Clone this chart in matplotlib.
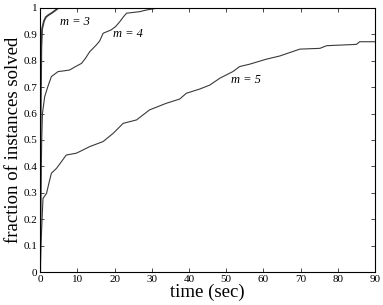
import matplotlib.pyplot as plt
from matplotlib.ticker import FuncFormatter

# m = 3
t3 = [0, 0.1, 0.3, 0.5, 1.0, 1.5, 2.2, 3.0, 4.0, 4.9, 6]
f3 = [0, 0.55, 0.85, 0.92, 0.95, 0.965, 0.973, 0.98, 0.99, 1.0, 1.0]

# m = 4
t4 = [0, 0.2, 0.4, 0.6, 1.2, 2.0, 3.0, 4.8, 6.5, 7.9, 9.5, 11.1, 12.2, 13.3, 15.1,
      16.0, 16.9, 19.1, 20.3, 21.4, 22.3, 23.2, 26.8, 28.5, 31.0, 36.0]
f4 = [0, 0.3, 0.5, 0.6, 0.664, 0.7, 0.74, 0.759, 0.762, 0.765, 0.778, 0.79, 0.81,
      0.834, 0.86, 0.875, 0.904, 0.917, 0.93, 0.948, 0.965, 0.98, 0.986, 0.992,
      0.998, 1.0]

# m = 5
t5 = [0, 0.2, 0.5, 0.75, 1.7, 2.4, 3.0, 4.4, 5.7, 7.0, 9.7, 10.6, 13.3, 16.9, 19.6,
      22.3, 25.9, 29.4, 33.9, 37.5, 39.3, 42.9, 45.6, 48.3, 51.8, 53.6, 56.3, 60.8,
      64.4, 69.8, 75.2, 77.0, 85.0, 85.9, 90.0]
f5 = [0, 0.1, 0.2, 0.279, 0.298, 0.34, 0.374, 0.393, 0.418, 0.443, 0.45, 0.456,
      0.475, 0.494, 0.525, 0.563, 0.576, 0.614, 0.639, 0.655, 0.677, 0.693, 0.708,
      0.734, 0.759, 0.778, 0.787, 0.806, 0.818, 0.844, 0.847, 0.857, 0.862, 0.872,
      0.872]

plt.rcParams['font.family'] = ['Liberation Serif', 'DejaVu Serif']

fig = plt.figure(figsize=(3.83, 3.05), dpi=100)
ax = fig.add_axes([0.105, 0.108, 0.874, 0.866])

col = '#3a3a3a'
ax.plot(t3, f3, color=col, lw=1.3)
ax.plot(t4, f4, color=col, lw=0.8)
ax.plot(t5, f5, color=col, lw=0.8)

ax.text(5.2, 0.947, 'm = 3', fontsize=9, fontstyle='italic', va='center')
ax.text(19.7, 0.90, 'm = 4', fontsize=9, fontstyle='italic', va='center')
ax.text(51.2, 0.727, 'm = 5', fontsize=9, fontstyle='italic', va='center')

ax.set_xlim(0, 90)
ax.set_ylim(0, 1)
ax.set_xticks(range(0, 91, 10))
ax.set_yticks([i / 10 for i in range(11)])
ax.yaxis.set_major_formatter(FuncFormatter(lambda v, p: '%g' % v))
ax.tick_params(direction='in', top=True, right=True, labelsize=8, length=3,
               width=0.5, pad=2)
for s in ax.spines.values():
    s.set_linewidth(0.8)

ax.set_xlabel('time (sec)', fontsize=13.5, labelpad=0)
ax.set_ylabel('fraction of instances solved', fontsize=13.5, labelpad=1)

fig.savefig('out.png', dpi=100)
plt.close(fig)
